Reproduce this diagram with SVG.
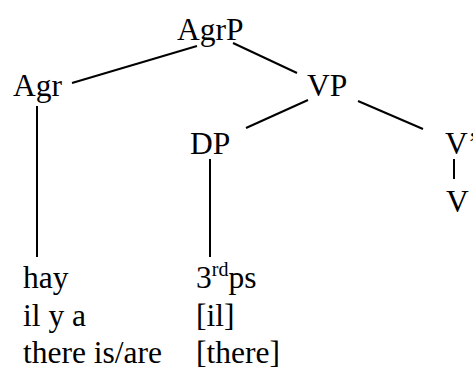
<svg xmlns="http://www.w3.org/2000/svg" width="473" height="367" viewBox="0 0 473 367">
<style>
text{font-family:'Liberation Serif','Tinos','Times New Roman',Times,'DejaVu Serif',serif;font-size:31.5px;fill:#000}
.sup{font-size:20px}
line{stroke:#000;stroke-width:2}
</style>
<rect width="473" height="367" fill="#fff"/>
<g id="connectors">
<line x1="197" y1="46" x2="72" y2="83"/>
<line x1="233" y1="43" x2="297" y2="73"/>
<line x1="308" y1="100" x2="246" y2="128"/>
<line x1="358" y1="101" x2="423" y2="129"/>
<line x1="37" y1="106" x2="37" y2="257"/>
<line x1="210" y1="159" x2="210" y2="257"/>
<line x1="454" y1="159" x2="454" y2="179"/>
</g>
<g id="AgrP"><text x="177" y="40">AgrP</text></g>
<g id="Agr"><text x="13" y="96">Agr</text></g>
<g id="VP"><text x="307" y="96">VP</text></g>
<g id="DP"><text x="190" y="154">DP</text></g>
<g id="Vbar"><text x="445" y="154">V’</text></g>
<g id="V"><text x="446" y="212">V</text></g>
<g id="agr-words">
<text x="23" y="288">hay</text>
<text x="23" y="326">il y a</text>
<text x="23" y="363">there is/are</text>
</g>
<g id="dp-words">
<text x="196" y="288">3<tspan class="sup" dy="-12">rd</tspan><tspan dy="12">ps</tspan></text>
<text x="196" y="326">[il]</text>
<text x="196" y="363">[there]</text>
</g>
</svg>
